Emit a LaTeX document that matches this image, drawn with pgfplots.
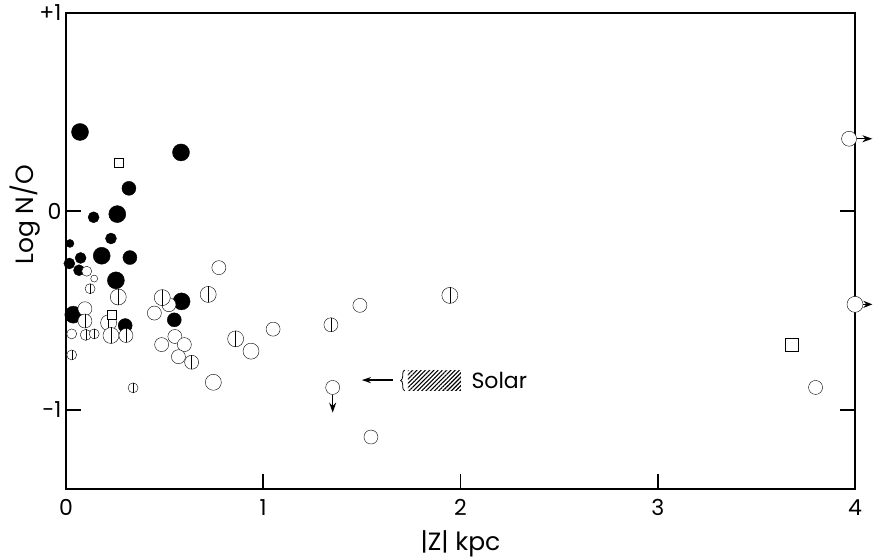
\documentclass[border=0pt]{standalone}
\usepackage{pgfplots}
\pgfplotsset{compat=1.18}
\usepackage{fontspec}
\setmainfont{Poppins}
\usetikzlibrary{arrows.meta,patterns.meta,decorations.pathreplacing}

\pgfdeclareplotmark{barred}{%
  \pgfpathcircle{\pgfqpoint{0pt}{0pt}}{\pgfplotmarksize}%
  \pgfusepathqfillstroke
  \pgfpathmoveto{\pgfqpoint{0pt}{-\pgfplotmarksize}}%
  \pgfpathlineto{\pgfqpoint{0pt}{\pgfplotmarksize}}%
  \pgfusepathqstroke}

\begin{document}
\begin{tikzpicture}
\begin{axis}[
  scale only axis, width=789pt, height=476pt,
  xmin=0, xmax=4, ymin=-1.4, ymax=1,
  clip=false,
  axis line style={line width=2.6pt},
  tick align=inside, major tick length=15pt,
  every tick/.style={black, line width=1.9pt},
  xtick={0,1,2,3,4}, xtick pos=left,
  ytick={-1,0,1}, yticklabels={-1,0,+1},
  /pgf/number format/assume math mode=true,
  ticklabel style={font=\fontsize{22}{26}\selectfont},
  xticklabel style={yshift=-7pt},
  yticklabel style={xshift=-1pt},
  label style={font=\fontsize{25}{30}\selectfont},
  xlabel={|Z| kpc}, ylabel={Log N/O},
  xlabel style={at={(axis description cs:0.5,-0.115)}, anchor=center},
  ylabel style={at={(axis description cs:-0.052,0.576)}, anchor=center, rotate=0},
  every axis plot/.style={only marks, mark options={line width=1.7pt, draw=black}},
]
% filled circles
\addplot[mark=*, mark size=8.5pt, mark options={fill=black}] coordinates {
 (0.071,0.40) (0.583,0.297) (0.26,-0.014) (0.181,-0.224) (0.253,-0.348) (0.586,-0.454) (0.037,-0.521)};
\addplot[mark=*, mark size=7pt, mark options={fill=black}] coordinates {
 (0.319,0.116) (0.324,-0.233) (0.549,-0.547) (0.30,-0.576)};
\addplot[mark=*, mark size=5.5pt, mark options={fill=black}] coordinates {
 (0.14,-0.03) (0.228,-0.137) (0.074,-0.235) (0.066,-0.297) (0.017,-0.263)};
\addplot[mark=*, mark size=4pt, mark options={fill=black}] coordinates {
 (0.02,-0.162)};
% open circles
\addplot[mark=*, mark size=8pt, mark options={fill=white}] coordinates {
 (0.938,-0.705) (0.747,-0.862) (4.0,-0.469)};
\addplot[mark=*, mark size=7pt, mark options={fill=white}] coordinates {
 (0.775,-0.284) (0.522,-0.471) (0.448,-0.513) (0.096,-0.491) (0.552,-0.631)
 (0.485,-0.672) (0.60,-0.672) (0.57,-0.733) (1.05,-0.594) (1.49,-0.474)
 (1.352,-0.888) (1.546,-1.138) (3.80,-0.888)};
\addplot[mark=*, mark size=7.5pt, mark options={fill=white}] coordinates {
 (3.97,0.366)};
\addplot[mark=*, mark size=5pt, mark options={fill=white}] coordinates {
 (0.105,-0.302) (0.029,-0.618)};
\addplot[mark=*, mark size=3.5pt, mark options={fill=white}] coordinates {
 (0.143,-0.339)};
% barred circles
\addplot[mark=barred, mark size=8pt, mark options={fill=white}] coordinates {
 (0.265,-0.432) (0.721,-0.419) (0.488,-0.435) (0.216,-0.562) (0.228,-0.626)
 (0.86,-0.643) (1.946,-0.424)};
\addplot[mark=barred, mark size=7pt, mark options={fill=white}] coordinates {
 (0.096,-0.553) (0.304,-0.626) (0.637,-0.761) (1.343,-0.572)};
\addplot[mark=barred, mark size=5.5pt, mark options={fill=white}] coordinates {
 (0.10,-0.623)};
\addplot[mark=barred, mark size=5pt, mark options={fill=white}] coordinates {
 (0.122,-0.39) (0.143,-0.618) (0.029,-0.724) (0.34,-0.89)};
% squares
\addplot[mark=square*, mark size=4.5pt, mark options={fill=white}] coordinates {
 (0.269,0.247) (0.231,-0.52)};
\addplot[mark=square*, mark size=6.5pt, mark options={fill=white}] coordinates {
 (3.68,-0.673)};
% arrows (limits)
\draw[line width=1.4pt, -{Stealth[length=10pt,width=7pt]}] (axis cs:1.352,-0.924) -- (axis cs:1.352,-1.015);
\draw[line width=1.4pt, -{Stealth[length=10pt,width=7pt]}] (axis cs:4.009,0.366) -- (axis cs:4.088,0.366);
\draw[line width=1.4pt, -{Stealth[length=9pt,width=7pt]}] (axis cs:4.04,-0.469) -- (axis cs:4.088,-0.469);
% Solar annotation
\draw[line width=1.3pt, -{Stealth[length=9pt,width=6pt]}] (axis cs:1.657,-0.851) -- (axis cs:1.50,-0.851);
\fill[pattern={Lines[angle=45,distance=3pt,line width=1.1pt]}] (axis cs:1.733,-0.805) rectangle (axis cs:2.002,-0.901);
\draw[decorate, decoration={brace,amplitude=4pt}, line width=0.8pt] (axis cs:1.717,-0.905) -- (axis cs:1.717,-0.80);
\node[anchor=west, font=\fontsize{22}{26}\selectfont, inner sep=0pt] at (axis cs:2.055,-0.853) {Solar};
\coordinate (SW) at (rel axis cs:0,0);
\coordinate (NE) at (rel axis cs:1,1);
\end{axis}
\pgfresetboundingbox
\path ([shift={(-66pt,-69pt)}]SW) rectangle ([shift={(18pt,13pt)}]NE);
\end{tikzpicture}
\end{document}
